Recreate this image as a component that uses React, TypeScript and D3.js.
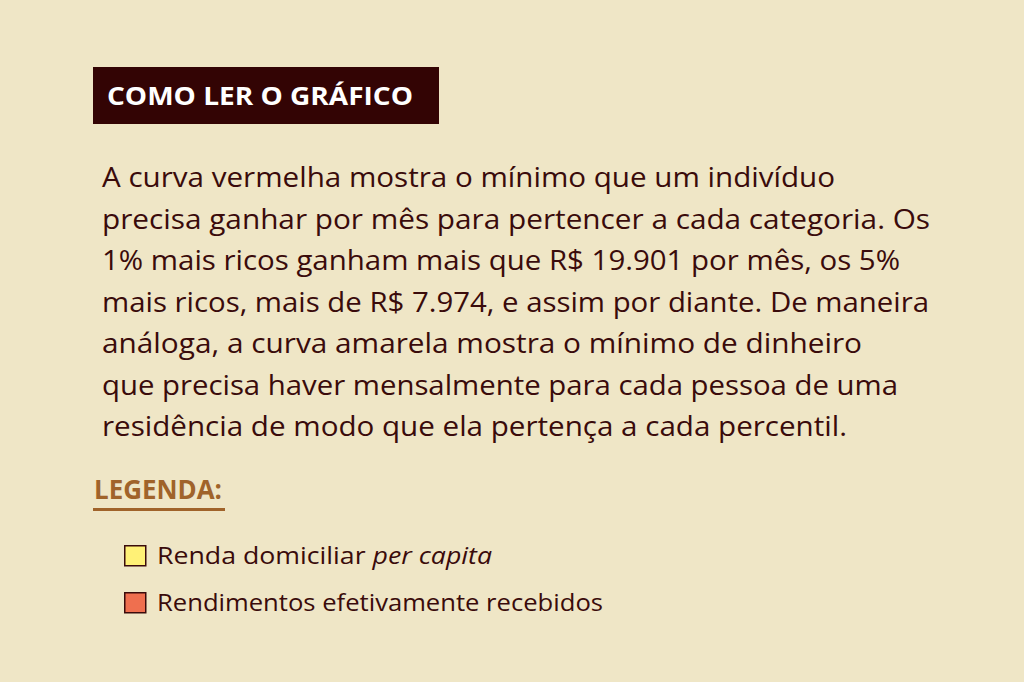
import React from "react"
import * as d3 from "d3"

// Text content
const title = "COMO LER O GRÁFICO"
const paragraphLines = [
  "A curva vermelha mostra o mínimo que um indivíduo",
  "precisa ganhar por mês para pertencer a cada categoria. Os",
  "1% mais ricos ganham mais que R$ 19.901 por mês, os 5%",
  "mais ricos, mais de R$ 7.974, e assim por diante. De maneira",
  "análoga, a curva amarela mostra o mínimo de dinheiro",
  "que precisa haver mensalmente para cada pessoa de uma",
  "residência de modo que ela pertença a cada percentil.",
]
const legendTitle = "LEGENDA:"
const legendNames = ["Renda domiciliar", "Rendimentos efetivamente recebidos"]
const legendItalic = [" per capita", ""]
const legendColors = ["#fff176", "#ef6f4f"]

// measured line widths (layout)
const lineWidths = [733, 828, 798, 827, 760, 796, 745]

const W = 1024
const H = 682
const BG = "#efe6c6"
const INK = "#3a0b0b"
const FONT = "'Open Sans', 'Noto Sans', sans-serif"

const App: React.FC = () => {
  // line baselines
  const yLine = d3
    .scaleLinear()
    .domain([0, paragraphLines.length - 1])
    .range([187, 436])

  // legend rows
  const yLegend = d3
    .scalePoint<string>()
    .domain(legendNames)
    .range([545, 592])

  return (
    <div style={{ position: "absolute", left: 0, top: 0 }}>
      <svg width={W} height={H} style={{ display: "block" }}>
        <rect width={W} height={H} fill={BG} />

        {/* title box */}
        <rect x={93} y={67} width={346} height={57} fill="#330404" />
        <text
          x={107}
          y={104.5}
          fill="#ffffff"
          fontFamily={FONT}
          fontWeight={700}
          fontSize={25}
          textLength={306}
          lengthAdjust="spacingAndGlyphs"
        >
          {title}
        </text>

        {/* paragraph */}
        {paragraphLines.map((line, i) => (
          <text
            key={i}
            x={102}
            y={yLine(i)}
            fill={INK}
            fontFamily={FONT}
            fontSize={28}
            textLength={lineWidths[i]}
            lengthAdjust="spacingAndGlyphs"
          >
            {line}
          </text>
        ))}

        {/* legend heading */}
        <text
          x={94}
          y={499}
          fill="#a0632a"
          fontFamily={FONT}
          fontWeight={700}
          fontSize={26}
          textLength={128}
          lengthAdjust="spacingAndGlyphs"
        >
          {legendTitle}
        </text>
        <rect x={93} y={508} width={132} height={3} fill="#a0632a" />

        {/* legend items */}
        {legendNames.map((name, i) => {
          const y = yLegend(name) ?? 0
          return (
            <g key={name} transform={`translate(124, ${y})`}>
              <rect x={0.75} y={0.75} width={21} height={20} fill={legendColors[i]} stroke={INK} strokeWidth={1.5} />
              <text
                x={33}
                y={19}
                fill={INK}
                fontFamily={FONT}
                fontSize={24}
                textLength={i === 0 ? 335 : 446}
                lengthAdjust="spacingAndGlyphs"
              >
                {name}
                {legendItalic[i] && <tspan fontStyle="italic">{legendItalic[i]}</tspan>}
              </text>
            </g>
          )
        })}
      </svg>
    </div>
  )
}

export default App
